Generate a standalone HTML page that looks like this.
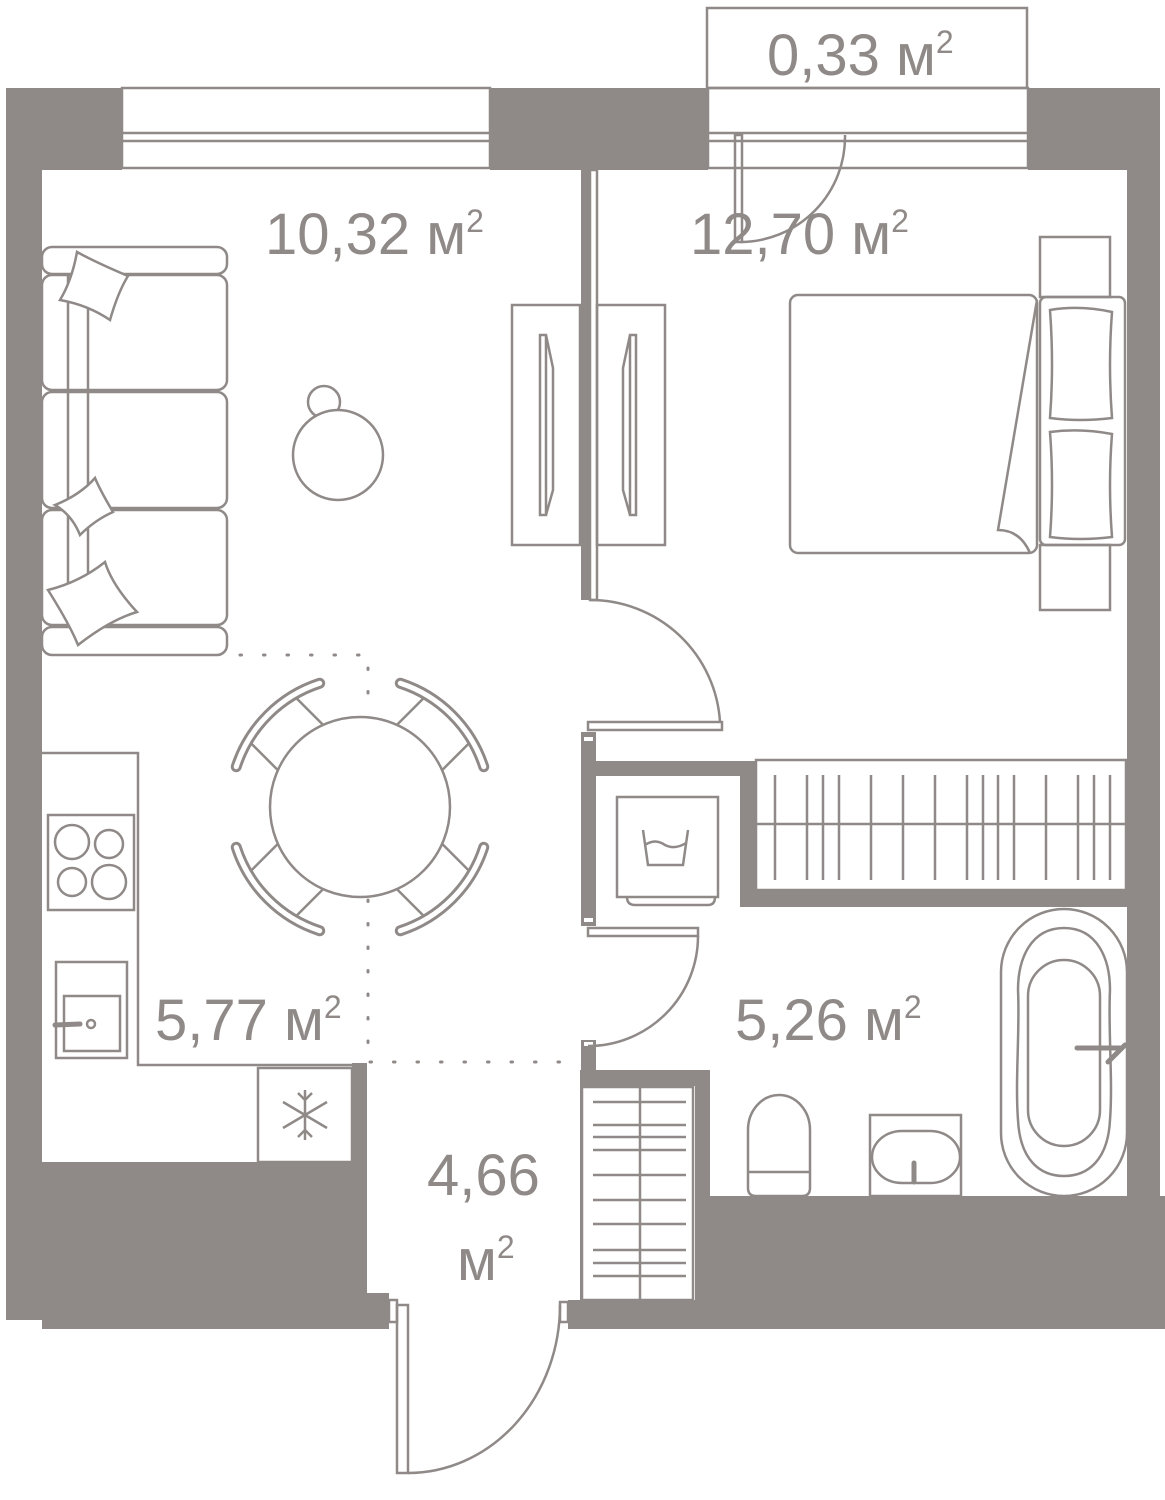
<!DOCTYPE html>
<html><head><meta charset="utf-8"><style>
html,body{margin:0;padding:0;background:#fff;}
svg{display:block}
text{font-family:"Liberation Sans",sans-serif;fill:#8f8a87}
</style></head><body>
<svg width="1165" height="1500" viewBox="0 0 1165 1500" xmlns="http://www.w3.org/2000/svg">
<defs>
<g id="chair">
<path d="M-32,-84 V-122 M32,-84 V-122" fill="none" stroke="#8f8a87" stroke-width="2.5"/>
<path d="M-59,-116 A130,130 0 0 1 59,-116" fill="none" stroke="#8f8a87" stroke-width="11" stroke-linecap="round"/>
<path d="M-59,-116 A130,130 0 0 1 59,-116" fill="none" stroke="#fff" stroke-width="5" stroke-linecap="round"/>
</g>
</defs>
<g fill="#8f8a87" stroke="none">
<rect x="6" y="88" width="116" height="82"/>
<rect x="490" y="88" width="218" height="82"/>
<rect x="1028" y="88" width="132" height="82"/>
<rect x="6" y="170" width="36" height="1150"/>
<rect x="1127" y="170" width="33" height="1158"/>
<rect x="581" y="170" width="9" height="430"/>
<rect x="42" y="1162" width="325" height="167"/>
<rect x="352" y="1063" width="15" height="100"/>
<rect x="360" y="1293" width="29" height="36"/>
<rect x="568" y="1300" width="597" height="29"/>
<rect x="710" y="1196" width="455" height="133"/>
<rect x="580" y="1070" width="130" height="16"/>
<rect x="695" y="1070" width="15" height="130"/>
<rect x="695" y="1196" width="15" height="110"/>
<rect x="580" y="1070" width="3" height="230"/>
<rect x="581" y="732" width="15" height="194"/>
<rect x="581" y="1040" width="15" height="32"/>
<rect x="596" y="761" width="144" height="15"/>
<rect x="740" y="761" width="15" height="146"/>
<rect x="740" y="891" width="387" height="16"/>
</g>
<g fill="#fff" stroke="none">
<rect x="584" y="737" width="9" height="4"/><rect x="584" y="918" width="9" height="4"/>
<rect x="584" y="1042" width="9" height="4"/>
</g>
<g fill="none" stroke="#8f8a87" stroke-width="2.5">
<rect x="122" y="88" width="368" height="80"/>
<line x1="122" y1="133" x2="490" y2="133"/><line x1="122" y1="141" x2="490" y2="141"/>
<rect x="708" y="88" width="320" height="80"/>
<line x1="708" y1="133" x2="1028" y2="133"/><line x1="708" y1="141" x2="1028" y2="141"/>
<rect x="707" y="8" width="320" height="80"/>
<rect x="735" y="135" width="7" height="107"/>
<path d="M845,135 A105,105 0 0 1 740,242"/>
<rect x="590" y="170" width="7" height="430"/>
<rect x="42" y="247" width="185" height="27" rx="10"/>
<rect x="42" y="275" width="185" height="115" rx="10"/>
<rect x="42" y="392" width="185" height="116" rx="10"/>
<rect x="42" y="510" width="185" height="115" rx="10"/>
<rect x="42" y="627" width="185" height="28" rx="10"/>
<line x1="68" y1="275" x2="68" y2="625"/><line x1="88" y1="275" x2="88" y2="625"/>
<path d="M77,252 Q95,262 128,276 Q118,292 110,320 Q88,305 60,300 Q72,280 77,252Z" fill="#fff"/>
<path d="M95,478 Q100,490 113,512 Q95,520 80,535 Q72,515 55,505 Q80,495 95,478Z" fill="#fff"/>
<path d="M105,562 Q112,585 137,612 Q110,620 78,645 Q70,625 48,590 Q80,582 105,562Z" fill="#fff"/>
<circle cx="324" cy="402" r="16"/>
<circle cx="338" cy="455" r="45" fill="#fff"/>
<rect x="512" y="305" width="68" height="240"/>
<rect x="597" y="305" width="68" height="240"/>
<path d="M540,335 L546,335 L546,515 L540,515 Z M546,335 L553,368 L553,490 L546,515"/>
<path d="M630,335 L636,335 L636,515 L630,515 Z M630,335 L623,368 L623,490 L630,515"/>
<rect x="790" y="295" width="247" height="258" rx="8"/>
<rect x="1040" y="237" width="70" height="60"/>
<rect x="1040" y="297" width="85" height="248" rx="6"/>
<rect x="1040" y="545" width="70" height="65"/>
<path d="M1050,310 Q1080,305 1112,312 Q1108,365 1112,418 Q1080,422 1050,418 Q1054,365 1050,310Z"/>
<path d="M1050,432 Q1080,428 1112,434 Q1108,485 1112,537 Q1080,541 1050,537 Q1054,485 1050,432Z"/>
<path d="M1037,300 L998,530 Q1020,530 1030,553"/>
<circle cx="360" cy="807" r="90" fill="#fff"/>
<polyline points="42,753 138,753 138,1065 352,1065"/>
<rect x="48" y="815" width="86" height="95"/>
<circle cx="72" cy="842" r="17"/><circle cx="109" cy="844" r="14"/>
<circle cx="72" cy="882" r="14"/><circle cx="109" cy="882" r="17"/>
<rect x="56" y="962" width="71" height="96"/>
<rect x="64" y="996" width="56" height="55"/>
<line x1="55" y1="1025" x2="80" y2="1024" stroke-width="5" stroke-linecap="round"/>
<circle cx="91" cy="1024" r="4"/>
<rect x="258" y="1068" width="94" height="94"/>
<g stroke-dasharray="1.5 22" stroke-width="3" stroke-linecap="round">
<line x1="240" y1="655" x2="360" y2="655"/>
<line x1="368" y1="668" x2="368" y2="712"/>
<line x1="368" y1="900" x2="368" y2="1060"/>
<line x1="370" y1="1062" x2="580" y2="1062"/>
</g>
<rect x="588" y="722" width="134" height="8"/>
<path d="M590,600 A130,130 0 0 1 720,722"/>
<rect x="617" y="797" width="101" height="100"/>
<path d="M627,897 Q627,905 635,905 L708,905 Q715,905 715,897"/>
<path d="M643,830 L648,865 L683,865 L688,830 M645,845 Q655,838 665,845 Q675,850 686,843"/>
<rect x="756" y="760" width="370" height="130"/>
<line x1="756" y1="824" x2="1126" y2="824"/>
<path d="M775,775 V880 M807,775 V880 M823,775 V880 M839,775 V880 M871,775 V880 M903,775 V880 M935,775 V880 M967,775 V880 M983,775 V880 M998,775 V880 M1014,775 V880 M1046,775 V880 M1078,775 V880 M1094,775 V880 M1110,775 V880"/>
<rect x="588" y="928" width="110" height="8"/>
<path d="M698,936 A110,110 0 0 1 588,1046"/>
<rect x="582" y="1087" width="111" height="213"/>
<line x1="640" y1="1087" x2="640" y2="1300"/>
<path d="M593,1102 H686 M593,1125 H686 M593,1137 H686 M593,1150 H686 M593,1175 H686 M593,1200 H686 M593,1224 H686 M593,1250 H686 M593,1263 H686 M593,1276 H686"/>
<path d="M748,1188 L748,1130 A31,35 0 0 1 810,1130 L810,1188 Q810,1196 802,1196 L756,1196 Q748,1196 748,1188Z"/>
<line x1="748" y1="1172" x2="810" y2="1172"/>
<rect x="870" y="1115" width="91" height="81"/>
<path d="M902,1131 L930,1131 A30,26 0 0 1 930,1183 L902,1183 A30,26 0 0 1 902,1131Z"/>
<line x1="914" y1="1163" x2="914" y2="1182" stroke-width="5" stroke-linecap="round"/>
<rect x="1001" y="909" width="126" height="287" rx="63"/>
<path d="M1064,928 C1030,928 1018,960 1018,990 C1020,1030 1015,1080 1018,1120 C1020,1160 1040,1176 1064,1176 C1088,1176 1108,1160 1110,1120 C1113,1080 1108,1030 1110,990 C1110,960 1098,928 1064,928Z"/>
<rect x="1028" y="960" width="72" height="186" rx="36"/>
<line x1="1077" y1="1048" x2="1120" y2="1048" stroke-width="5" stroke-linecap="round"/>
<line x1="1108" y1="1062" x2="1125" y2="1045" stroke-width="5" stroke-linecap="round"/>
<rect x="397" y="1305" width="11" height="168"/>
<rect x="389" y="1300" width="8" height="22"/>
<rect x="560" y="1302" width="8" height="20"/>
<path d="M408,1473 A152,168 0 0 0 560,1305"/>
<path d="M305,1090 V1140 M283,1102 L327,1128 M283,1128 L327,1102"/>
<path d="M298,1093 L305,1100 L312,1093 M298,1137 L305,1130 L312,1137"/>
</g>
<use href="#chair" transform="translate(360,807) rotate(-45)"/>
<use href="#chair" transform="translate(360,807) rotate(45)"/>
<use href="#chair" transform="translate(360,807) rotate(135)"/>
<use href="#chair" transform="translate(360,807) rotate(225)"/>
<g font-size="58">
<text x="265" y="254">10,32 м<tspan font-size="32" dy="-22">2</tspan></text>
<text x="690" y="254">12,70 м<tspan font-size="32" dy="-22">2</tspan></text>
<text x="767" y="75">0,33 м<tspan font-size="32" dy="-22">2</tspan></text>
<text x="155" y="1040">5,77 м<tspan font-size="32" dy="-22">2</tspan></text>
<text x="735" y="1040">5,26 м<tspan font-size="32" dy="-22">2</tspan></text>
<text x="427" y="1195">4,66</text>
<text x="457" y="1280">м<tspan font-size="32" dy="-22">2</tspan></text>
</g>
</svg>
</body></html>
